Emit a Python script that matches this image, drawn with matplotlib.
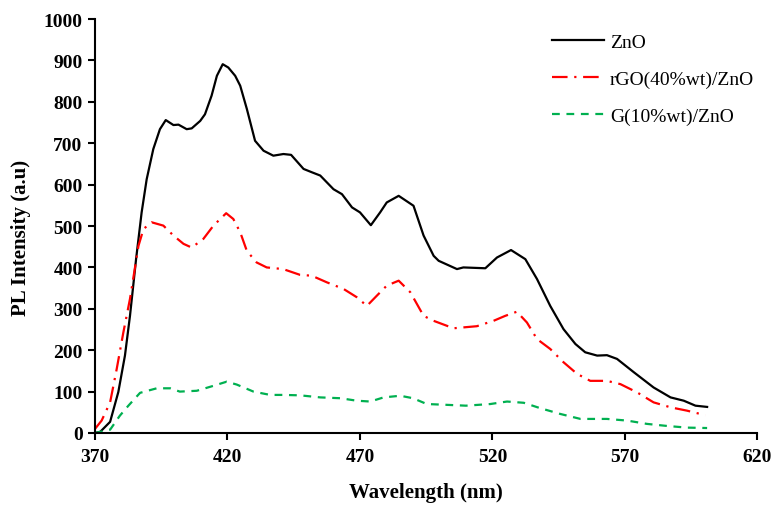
import matplotlib
matplotlib.use("Agg")
import matplotlib.pyplot as plt

zno_x = [370, 372, 375.7, 378.8, 381.3, 383.2, 385.5, 387.6, 389.5, 392, 394.5, 396.7, 399.6, 401.5,
         404.6, 406.5, 409.7, 411.5, 414, 416, 418.2, 420.3, 422.9, 424.8, 427.3, 430.4, 433.6, 437.3,
         441.1, 444, 448.7, 451.8, 455, 460, 463.2, 467, 470, 474.1, 477.6, 480.1, 484.6, 490.2, 494,
         497.8, 499.7, 506.6, 509, 517.3, 521.7, 527, 532.4, 536.8, 541.8, 546.8, 551.3, 555, 559.5,
         563.2, 567, 573.3, 580.8, 587.2, 592.2, 596.6, 601]
zno_y = [0, 3, 27, 99, 187, 283, 420, 533, 613, 686, 734, 756, 744, 745,
         734, 736, 754, 770, 815, 863, 891, 883, 863, 839, 783, 706, 682, 670,
         674, 672, 638, 630, 622, 589, 577, 545, 533, 502, 533, 557, 573, 549, 477,
         428, 416, 396, 400, 398, 424, 442, 420, 372, 307, 251, 215, 195, 187,
         188, 179, 147, 110, 86, 78, 66, 63]

rgo_x = [370, 372.5, 375.7, 378.2, 380.7, 383.2, 385, 386.4, 388.3, 391.4, 395.8, 399.6, 403.4, 406.5,
         410.9, 414.7, 419.5, 422.2, 424.8, 427.3, 431, 434.8, 441, 447.4, 451.8, 457.5, 463.8, 468.8,
         472.6, 476.4, 480.1, 484.6, 489, 494, 497.8, 505.3, 514.1, 520.4, 524.8, 529.2, 533, 536.8,
         541.8, 546.8, 551.9, 556.9, 563.2, 568.3, 574.6, 580.8, 587.2, 593.4, 600.3]
rgo_y = [10, 30, 74, 155, 243, 324, 396, 452, 493, 509, 501, 477, 457, 448,
         469, 501, 531, 517, 485, 440, 412, 400, 396, 382, 380, 364, 348, 328,
         307, 332, 356, 368, 340, 283, 271, 253, 258, 271, 283, 293, 267, 227,
         203, 171, 143, 126, 126, 118, 98, 74, 62, 54, 43]

g_x = [370, 375.7, 379.4, 382.6, 387, 393.3, 398.4, 402, 408.4, 414.7, 419.7, 423.5, 429.8, 436.1,
       441, 447.4, 455, 462.6, 468.8, 473.9, 478.9, 485.2, 490, 495.2, 502.8, 510, 519.2, 525.5,
       531.8, 538, 545.6, 553.2, 563.2, 570.8, 578.3, 585.9, 593.4, 601]
g_y = [0, 8, 42, 66, 97, 108, 108, 100, 102, 114, 124, 117, 100, 92,
       92, 91, 86, 84, 78, 76, 86, 90, 84, 70, 68, 66, 70, 76,
       73, 60, 46, 34, 34, 30, 22, 17, 13, 12]

labels = ["ZnO", "rGO(40%wt)/ZnO", "G(10%wt)/ZnO"]
xticks = [370, 420, 470, 520, 570, 620]
yticks = [0, 100, 200, 300, 400, 500, 600, 700, 800, 900, 1000]

plt.rcParams['font.family'] = ['Liberation Serif', 'DejaVu Serif']

fig = plt.figure(figsize=(7.73, 5.06), dpi=100)
ax = fig.add_axes([0.1229, 0.1423, 0.857, 0.818])

ax.plot(zno_x, zno_y, color='black', lw=1.6, label=labels[0])
ax.plot(rgo_x, rgo_y, color='#ff0000', lw=1.6, dashes=(7, 3, 1, 3), label=labels[1])
ax.plot(g_x, g_y, color='#00b050', lw=1.6, dashes=(3.5, 3), label=labels[2])

ax.set_xlim(370, 620)
ax.set_ylim(0, 1000)
ax.set_xticks(xticks)
ax.set_yticks(yticks)
for s in ['top', 'right']:
    ax.spines[s].set_visible(False)
for s in ['left', 'bottom']:
    ax.spines[s].set_linewidth(1.5)
ax.tick_params(direction='out', length=5, width=1.5, labelsize=14)
for lab in ax.get_xticklabels() + ax.get_yticklabels():
    lab.set_fontweight('bold')
ax.tick_params(axis='x', pad=6)
ax.tick_params(axis='y', pad=4)

ax.set_xlabel("Wavelength (nm)", fontsize=15, fontweight='bold', labelpad=12)
ax.set_ylabel("PL Intensity (a.u)", fontsize=15, fontweight='bold')
ax.yaxis.set_label_coords(-0.097, 0.473)

leg = ax.legend(loc='upper left', bbox_to_anchor=(0.663, 1.008), frameon=False,
                fontsize=14, handlelength=2.7, labelspacing=1.0, handletextpad=0.3)

fig.savefig("out.png", dpi=100)
